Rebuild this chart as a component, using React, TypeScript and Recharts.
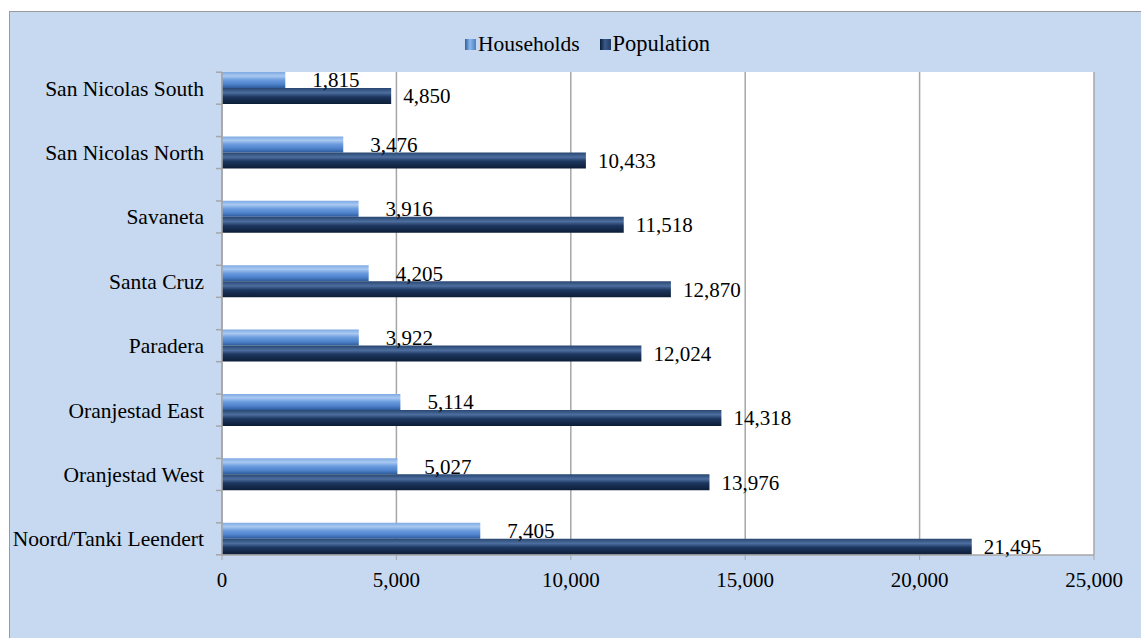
import { BarChart, Bar, XAxis, YAxis, CartesianGrid } from 'recharts'

/* ── Data ───────────────────────────────────────────────────────────── */

const REGIONS = [
  'San Nicolas South',
  'San Nicolas North',
  'Savaneta',
  'Santa Cruz',
  'Paradera',
  'Oranjestad East',
  'Oranjestad West',
  'Noord/Tanki Leendert',
]
const HOUSEHOLDS = [1815, 3476, 3916, 4205, 3922, 5114, 5027, 7405]
const POPULATION = [4850, 10433, 11518, 12870, 12024, 14318, 13976, 21495]
const X_TICKS = [0, 5000, 10000, 15000, 20000, 25000]

const data = REGIONS.map((name, i) => ({ name, households: HOUSEHOLDS[i], population: POPULATION[i] }))

/* ── Style ──────────────────────────────────────────────────────────── */

const FONT = 'Liberation Serif'
const BG = '#c6d9f1'
const GRID = '#a6a6a6'
const BAR = 16

const fmt = (v: number) => v.toLocaleString('en-US')

// left category tick: label plus Excel-style tick marks at both edges of the bar group
function CategoryTick({ x, y, payload }: { x?: number; y?: number; payload?: { value: string } }) {
  if (x == null || y == null) return null
  return (
    <g>
      <line x1={x + 12} x2={x + 18} y1={y - BAR} y2={y - BAR} stroke={GRID} strokeWidth={1.5} />
      <line x1={x + 12} x2={x + 18} y1={y + BAR} y2={y + BAR} stroke={GRID} strokeWidth={1.5} />
      <text x={x} y={y} dy="0.35em" textAnchor="end" fontSize={21.5} fill="#000" fontFamily={FONT}>
        {payload?.value}
      </text>
    </g>
  )
}

const swatch = (grad: string) => (
  <span style={{ display: 'inline-block', width: 11, height: 11, background: grad, marginRight: 2 }} />
)

export default function App() {
  return (
    <div style={{ position: 'relative', width: 1141, height: 638, overflow: 'hidden', background: '#fff', fontFamily: FONT }}>
      <style>{'body{margin:0}'}</style>

      {/* chart area frame, runs past the right and bottom edge */}
      <div
        style={{
          position: 'absolute',
          left: 9,
          top: 11,
          width: 1180,
          height: 680,
          background: BG,
          border: '1.5px solid #9a9a9a',
        }}
      />

      {/* legend */}
      <div
        style={{
          position: 'absolute',
          left: 465,
          top: 31,
          display: 'flex',
          alignItems: 'center',
          fontSize: 21.5,
          color: '#000',
          whiteSpace: 'nowrap',
        }}
      >
        {swatch('linear-gradient(90deg,#2f5f9e,#8cb8ec 45%,#4a7fc5)')}
        <span style={{ marginRight: 20 }}>Households</span>
        {swatch('linear-gradient(90deg,#0c1d36,#3a5a8a 45%,#1f3a63)')}
        <span style={{ fontSize: 22.5 }}>Population</span>
      </div>

      <div style={{ position: 'absolute', left: 0, top: 0 }}>
        <BarChart
          width={1141}
          height={638}
          layout="vertical"
          data={data}
          margin={{ top: 72, right: 47, bottom: 53, left: 0 }}
          barGap={0}
        >
          <defs>
            <linearGradient id="gradHouse" x1="0" y1="0" x2="0" y2="1">
              <stop offset="0%" stopColor="#7ea9e3" />
              <stop offset="25%" stopColor="#a9c9f1" />
              <stop offset="50%" stopColor="#6a9bde" />
              <stop offset="75%" stopColor="#4f83cc" />
              <stop offset="100%" stopColor="#2e5c9c" />
            </linearGradient>
            <linearGradient id="gradPop" x1="0" y1="0" x2="0" y2="1">
              <stop offset="0%" stopColor="#27456f" />
              <stop offset="30%" stopColor="#4d6e9f" />
              <stop offset="55%" stopColor="#1d3760" />
              <stop offset="100%" stopColor="#0c1d36" />
            </linearGradient>
          </defs>
          <CartesianGrid horizontal={false} stroke={GRID} strokeWidth={1.5} fill="#fff" />
          <XAxis
            type="number"
            domain={[0, 25000]}
            ticks={X_TICKS}
            tickFormatter={fmt}
            height={30}
            tickSize={5}
            tickMargin={12}
            axisLine={{ stroke: GRID, strokeWidth: 1.5 }}
            tickLine={{ stroke: GRID }}
            tick={{ fontSize: 21, fill: '#000', fontFamily: FONT }}
          />
          <YAxis
            type="category"
            dataKey="name"
            width={222}
            tickSize={6}
            tickMargin={12}
            padding={{ top: -16, bottom: -16 }}
            axisLine={{ stroke: GRID, strokeWidth: 1.5 }}
            tickLine={false}
            tick={<CategoryTick />}
          />
          <Bar
            dataKey="households"
            name="Households"
            barSize={BAR}
            fill="url(#gradHouse)"
            isAnimationActive={false}
            label={{ position: 'right', offset: 27, fontSize: 21, fill: '#000', fontFamily: FONT, formatter: fmt }}
          />
          <Bar
            dataKey="population"
            name="Population"
            barSize={BAR}
            fill="url(#gradPop)"
            isAnimationActive={false}
            label={{ position: 'right', offset: 12, fontSize: 21, fill: '#000', fontFamily: FONT, formatter: fmt }}
          />
        </BarChart>
      </div>
    </div>
  )
}
